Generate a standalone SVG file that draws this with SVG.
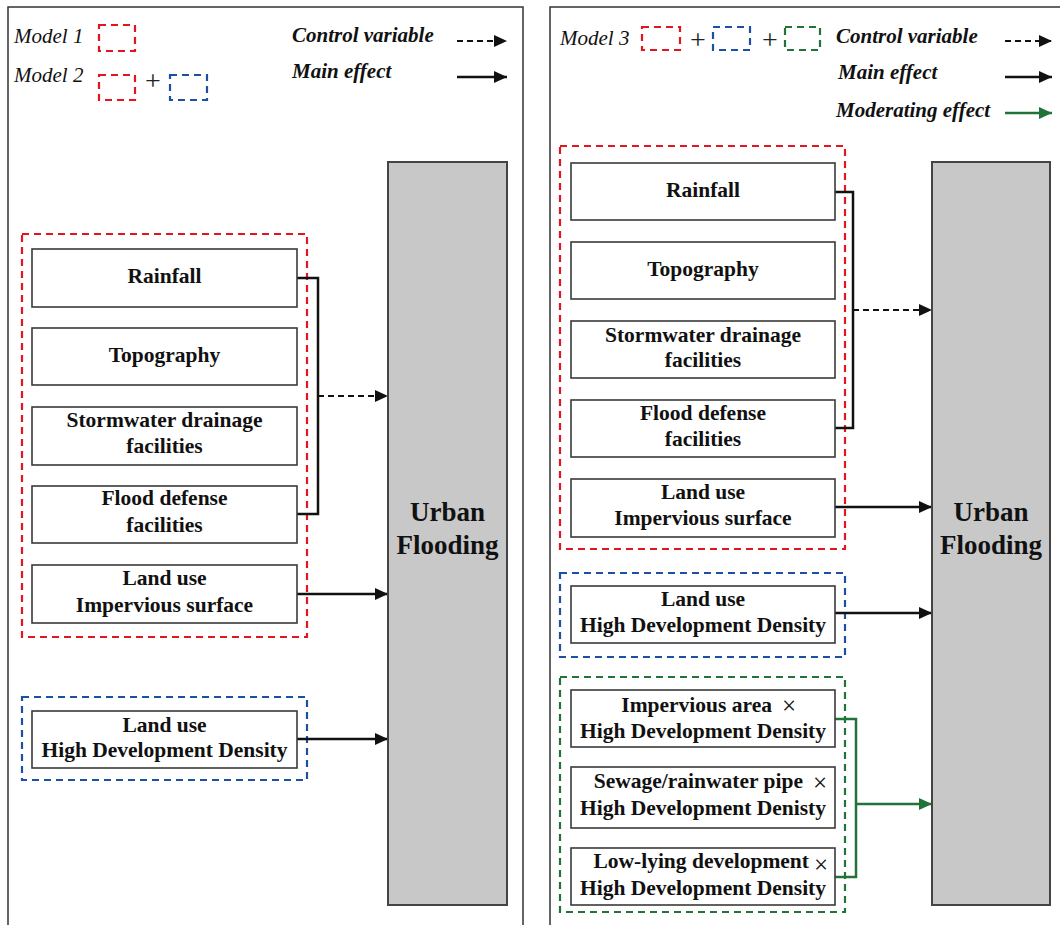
<svg xmlns="http://www.w3.org/2000/svg" width="1060" height="925" viewBox="0 0 1060 925">
<style>
.panel{fill:none;stroke:#333;stroke-width:1.5}
.node{fill:#fff;stroke:#3a3a3a;stroke-width:1.6}
.big{fill:#c8c8c8;stroke:#444;stroke-width:2}
.t{font-family:"Liberation Serif","Times New Roman",serif;font-weight:bold;font-size:21.5px;fill:#111;text-anchor:middle}
.tb{font-family:"Liberation Serif","Times New Roman",serif;font-weight:bold;font-size:27px;fill:#111;text-anchor:middle}
.x{font-family:"Liberation Serif","Times New Roman",serif;font-size:25px;fill:#111;text-anchor:middle}
.lg{font-family:"Liberation Serif","Times New Roman",serif;font-style:italic;font-size:21px;fill:#111}
.lgb{font-family:"Liberation Serif","Times New Roman",serif;font-style:italic;font-weight:bold;font-size:21px;fill:#111}
.plus{font-family:"Liberation Serif","Times New Roman",serif;font-size:28px;fill:#222;text-anchor:middle}
.red{fill:none;stroke:#e3161e;stroke-width:2.2;stroke-dasharray:7 5}
.blue{fill:none;stroke:#1d4fa3;stroke-width:2.2;stroke-dasharray:7 5}
.green{fill:none;stroke:#22733a;stroke-width:2.2;stroke-dasharray:7 5}
.k{fill:none;stroke:#111;stroke-width:2.5}
.kd{fill:none;stroke:#111;stroke-width:2.2;stroke-dasharray:6 4}
.g{fill:none;stroke:#22733a;stroke-width:2.5}
</style>
<defs>
<marker id="ah" markerUnits="userSpaceOnUse" markerWidth="13" markerHeight="12" refX="13" refY="6" orient="auto"><path d="M0,0 L13,6 L0,12 z" fill="#111"/></marker>
<marker id="ahg" markerUnits="userSpaceOnUse" markerWidth="13" markerHeight="12" refX="13" refY="6" orient="auto"><path d="M0,0 L13,6 L0,12 z" fill="#22733a"/></marker>
</defs>
<rect width="1060" height="925" fill="#fff"/>

<g id="panels">
<path class="panel" d="M8,930 V7 H523 V930"/>
<path class="panel" d="M550,930 V7 H1065"/>
</g>

<g id="legend-left">
<text class="lg" x="14" y="43">Model 1</text>
<rect class="red" x="99" y="25" width="36" height="26"/>
<text class="lg" x="14" y="82">Model 2</text>
<rect class="red" x="99" y="75" width="36" height="25"/>
<text class="plus" x="153" y="90">+</text>
<rect class="blue" x="170" y="75" width="37" height="25"/>
<text class="lgb" x="292" y="42">Control variable</text>
<line class="kd" x1="457" y1="41" x2="507" y2="41" marker-end="url(#ah)"/>
<text class="lgb" x="292" y="78">Main effect</text>
<line class="k" x1="457" y1="77" x2="507" y2="77" marker-end="url(#ah)"/>
</g>

<g id="legend-right">
<text class="lg" x="560" y="45">Model 3</text>
<rect class="red" x="642" y="27" width="38" height="23"/>
<text class="plus" x="698" y="49">+</text>
<rect class="blue" x="713" y="27" width="37" height="23"/>
<text class="plus" x="770" y="49">+</text>
<rect class="green" x="785" y="27" width="35" height="23"/>
<text class="lgb" x="836" y="43">Control variable</text>
<line class="kd" x1="1005" y1="41" x2="1052" y2="41" marker-end="url(#ah)"/>
<text class="lgb" x="838" y="79">Main effect</text>
<line class="k" x1="1005" y1="77" x2="1052" y2="77" marker-end="url(#ah)"/>
<text class="lgb" x="836" y="117">Moderating effect</text>
<line class="g" x1="1005" y1="113" x2="1052" y2="113" marker-end="url(#ahg)"/>
</g>

<g id="groups">
<rect class="red" x="22" y="234" width="285" height="403"/>
<rect class="blue" x="22" y="697" width="285" height="83"/>
<rect class="red" x="560" y="146" width="285" height="403"/>
<rect class="blue" x="560" y="573" width="285" height="84"/>
<rect class="green" x="560" y="677" width="285" height="235"/>
</g>

<g id="connectors">
<path class="k" d="M297,278 H318 V514 H297"/>
<line class="kd" x1="318" y1="396" x2="388" y2="396" marker-end="url(#ah)"/>
<line class="k" x1="297" y1="594" x2="388" y2="594" marker-end="url(#ah)"/>
<line class="k" x1="297" y1="739" x2="388" y2="739" marker-end="url(#ah)"/>
<path class="k" d="M835,192 H853 V428 H835"/>
<line class="kd" x1="853" y1="310" x2="932" y2="310" marker-end="url(#ah)"/>
<line class="k" x1="835" y1="507" x2="932" y2="507" marker-end="url(#ah)"/>
<line class="k" x1="835" y1="613" x2="932" y2="613" marker-end="url(#ah)"/>
<path class="g" d="M835,719 H856 V877 H835"/>
<line class="g" x1="856" y1="804" x2="932" y2="804" marker-end="url(#ahg)"/>
</g>

<g id="n-l-rainfall"><rect class="node" x="32" y="249" width="265" height="58"/><text class="t" x="164.5" y="283">Rainfall</text></g>
<g id="n-l-topography"><rect class="node" x="32" y="328" width="265" height="57"/><text class="t" x="164.5" y="362">Topography</text></g>
<g id="n-l-stormwater"><rect class="node" x="32" y="407" width="265" height="58"/><text class="t" x="164.5" y="427">Stormwater drainage</text><text class="t" x="164.5" y="453">facilities</text></g>
<g id="n-l-flood"><rect class="node" x="32" y="486" width="265" height="57"/><text class="t" x="164.5" y="505">Flood defense</text><text class="t" x="164.5" y="532">facilities</text></g>
<g id="n-l-impervious"><rect class="node" x="32" y="565" width="265" height="58"/><text class="t" x="164.5" y="585">Land use</text><text class="t" x="164.5" y="612">Impervious surface</text></g>
<g id="n-l-hdd"><rect class="node" x="32" y="711" width="265" height="57"/><text class="t" x="164.5" y="732">Land use</text><text class="t" x="164.5" y="757">High Development Density</text></g>
<g id="n-l-urban"><rect class="big" x="388" y="162" width="119" height="743"/><text class="tb" x="447.5" y="521">Urban</text><text class="tb" x="447.5" y="554">Flooding</text></g>

<g id="n-r-rainfall"><rect class="node" x="571" y="163" width="264" height="57"/><text class="t" x="703" y="197">Rainfall</text></g>
<g id="n-r-topography"><rect class="node" x="571" y="242" width="264" height="57"/><text class="t" x="703" y="276">Topography</text></g>
<g id="n-r-stormwater"><rect class="node" x="571" y="321" width="264" height="57"/><text class="t" x="703" y="342">Stormwater drainage</text><text class="t" x="703" y="367">facilities</text></g>
<g id="n-r-flood"><rect class="node" x="571" y="400" width="264" height="57"/><text class="t" x="703" y="420">Flood defense</text><text class="t" x="703" y="446">facilities</text></g>
<g id="n-r-impervious"><rect class="node" x="571" y="479" width="264" height="58"/><text class="t" x="703" y="499">Land use</text><text class="t" x="703" y="525">Impervious surface</text></g>
<g id="n-r-hdd"><rect class="node" x="571" y="586" width="264" height="57"/><text class="t" x="703" y="606">Land use</text><text class="t" x="703" y="632">High Development Density</text></g>
<g id="n-r-imp-hdd"><rect class="node" x="571" y="690" width="264" height="57"/><text class="t" x="772" y="712" style="text-anchor:end">Impervious area</text><text class="x" x="789" y="714">×</text><text class="t" x="703" y="738">High Development Density</text></g>
<g id="n-r-pipe-hdd"><rect class="node" x="571" y="767" width="264" height="61"/><text class="t" x="803" y="788" style="text-anchor:end">Sewage/rainwater pipe</text><text class="x" x="820" y="791">×</text><text class="t" x="703" y="815">High Development Denisty</text></g>
<g id="n-r-low-hdd"><rect class="node" x="571" y="848" width="264" height="57"/><text class="t" x="809" y="868" style="text-anchor:end">Low-lying development</text><text class="x" x="821" y="873">×</text><text class="t" x="703" y="895">High Development Density</text></g>
<g id="n-r-urban"><rect class="big" x="932" y="162" width="118" height="743"/><text class="tb" x="991" y="521">Urban</text><text class="tb" x="991" y="554">Flooding</text></g>
</svg>
